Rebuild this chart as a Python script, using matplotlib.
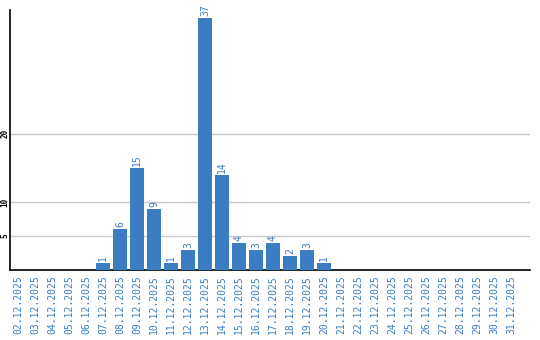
import matplotlib
matplotlib.use("Agg")
from matplotlib import pyplot as plt
import numpy as np

### - Data

days = ["%02d.12.2025" % d for d in range(2, 32)]
counts = [0, 0, 0, 0, 0, 1, 6, 15, 9, 1, 3, 37, 14, 4, 3, 4, 2, 3, 1,
          0, 0, 0, 0, 0, 0, 0, 0, 0, 0, 0]
y_ticks = [5, 10, 20]

bar_col = "#3a7dc2"

fig = plt.figure(figsize=(5.4, 3.4), dpi=100)
ax = fig.add_axes([10 / 540, 70 / 340, 520 / 540, 260 / 340])

x = np.arange(len(days))
bars = ax.bar(x, counts, width=0.82, color=bar_col, zorder=3)

# value labels above non-empty bars
for xi, c in zip(x, counts):
    if c > 0:
        ax.text(xi, c + 0.3, str(c), rotation=90, ha="center", va="bottom",
                color=bar_col, fontsize=7, family="DejaVu Sans Mono")

ax.set_xlim(-0.47, 30.12)
ax.set_ylim(0, 38.2)
ax.set_xticks(x)
ax.set_xticklabels(days, rotation=90, color=bar_col, fontsize=7,
                   family="DejaVu Sans Mono")
ax.set_yticks(y_ticks)
ax.set_yticklabels([str(t) for t in y_ticks], rotation=90, va="center",
                   fontsize=5.5, fontweight="bold", family="DejaVu Sans Mono")
ax.tick_params(axis="both", length=0)
ax.tick_params(axis="x", pad=4)
ax.tick_params(axis="y", pad=0.5)

ax.grid(axis="y", color="#c8c8c8", linewidth=1, zorder=0)
ax.spines["top"].set_visible(False)
ax.spines["right"].set_visible(False)
ax.spines["left"].set_linewidth(1.2)
ax.spines["bottom"].set_linewidth(1.2)

fig.savefig("out.png", dpi=100)
